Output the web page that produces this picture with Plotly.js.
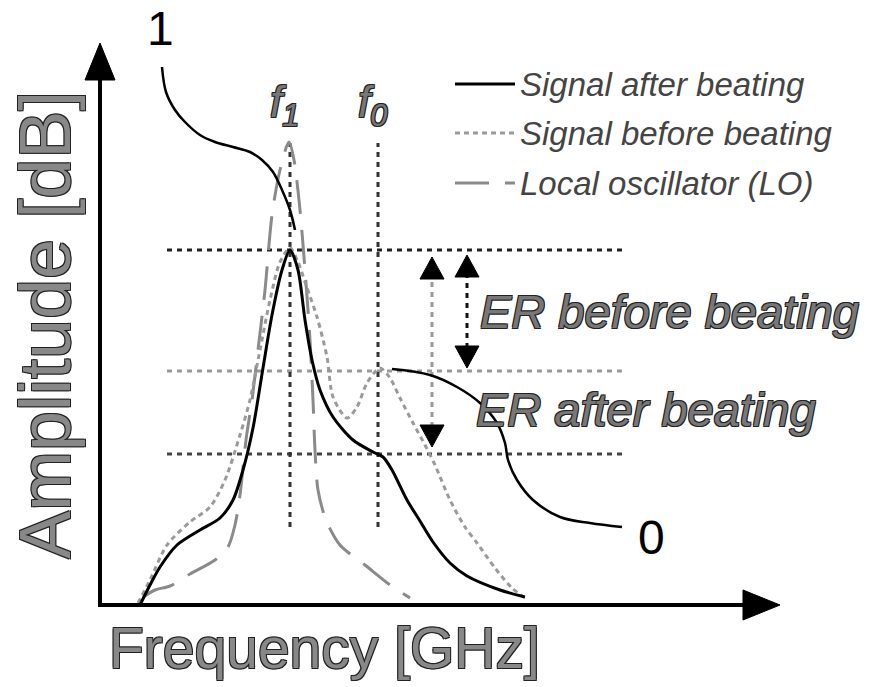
<!DOCTYPE html>
<html>
<head>
<meta charset="utf-8">
<script src="https://cdn.plot.ly/plotly-3.0.1.min.js"></script>
<style>html,body{margin:0;padding:0;background:#fff;}#chart{width:869px;height:687px;}</style>
</head>
<body>
<div id="chart"></div>
<script>
// ---- data (frequency offset / amplitude offset from axis origin, arbitrary units) ----
const afterFreq = [40,50,60,77,100,120,133,143,153,163,172,182,190,198,205,212,220,233,253,273,283,292,307,320,333,350,367,400,425];
const afterAmp  = [0,20,38,60,75,87,105,135,177,237,290,335,355,335,285,245,215,188,165,153,148,135,105,84,63,42,29,15,8];

const beforeFreq = [38,50,67,90,110,125,140,150,160,170,180,190,198,206,217,227,233,247,257,267,280,290,300,313,325,335,350,365,377,395,412,428];
const beforeAmp  = [2,25,60,83,98,125,170,205,255,305,343,357,343,320,288,248,208,187,198,222,237,227,207,182,160,140,105,78,62,37,17,5];

const loFreq = [43,55,70,90,115,128,135,140,146,152,158,165,172,180,189,194,200,205,210,213,215,218,226,240,265,290,310];
const loAmp  = [8,15,19,31,45,58,80,110,165,205,255,315,390,435,463,445,395,335,265,205,155,115,85,60,40,20,7];

const lead1Freq = [62,66,75,85,100,115,133,150,162,173,182,190,195];
const lead1Amp  = [538,513,495,483,470,463,458,453,445,433,415,395,375];
const lead0Freq = [292,330,357,380,397,405,408,417,433,460,490,522];
const lead0Amp  = [236,230,218,202,182,162,145,125,105,88,82,78];

const levelAmps   = [355, 234, 151];
const levelSpan   = [67, 522];
const markerFreqs = [190, 278];
const markerSpan  = [78, 462];
const markerLabels = ['<i>f<sub>1</sub></i>', '<i>f<sub>0</sub></i>'];

const erArrowFreqs = [332, 367];
const erArrowLow   = [158, 237];
const erArrowHigh  = [348, 350];
const erLabels = ['ER before beating', 'ER after beating'];

const legendLabels = ['Signal after beating', 'Signal before beating', 'Local oscillator (LO)'];
const endLabels = ['1', '0'];
const axisTitles = ['Frequency [GHz]', 'Amplitude [dB]'];

// ---- styles ----
const OUT = '1px 1px 0 #222, -1px -1px 0 #222, 1px -1px 0 #222, -1px 1px 0 #222';
const SANS = 'Liberation Sans, Arial, sans-serif';
const styles = {
  after:  {color:'#000', width:3, dash:'solid'},
  before: {color:'#9a9a9a', width:3, dash:'5px,4px'},
  lo:     {color:'#8a8a8a', width:3, dash:'34px,16px'}
};
const levelColors = ['#222', '#999', '#444'];

const traces = [];
function curve(x, y, st, smooth) {
  traces.push({type:'scatter', mode:'lines', x:x, y:y, hoverinfo:'skip',
    line:{color:st.color, width:st.width, dash:st.dash, shape:'spline', smoothing:smooth}});
}
levelAmps.forEach((a,i)=>traces.push({type:'scatter',mode:'lines',x:levelSpan,y:[a,a],hoverinfo:'skip',
  line:{color:levelColors[i],width:3,dash:'5px,5px'}}));
markerFreqs.forEach(f=>traces.push({type:'scatter',mode:'lines',x:[f,f],y:markerSpan,hoverinfo:'skip',
  line:{color:'#333',width:3,dash:'5px,5px'}}));
erArrowFreqs.forEach((f,i)=>traces.push({type:'scatter',mode:'lines',x:[f,f],y:[erArrowLow[i]+20,erArrowHigh[i]-20],hoverinfo:'skip',
  line:{color:i===0?'#999':'#111',width:3,dash:'5px,5px'}}));
curve(loFreq, loAmp, styles.lo, 0.8);
curve(beforeFreq, beforeAmp, styles.before, 0.8);
curve(afterFreq, afterAmp, styles.after, 0.8);
curve(lead1Freq, lead1Amp, {color:'#000',width:2.5,dash:'solid'}, 1);
curve(lead0Freq, lead0Amp, {color:'#000',width:2.5,dash:'solid'}, 1);

const legRowAmp = [521, 472, 422];
const legSpan = [355, 415];
[styles.after, styles.before, styles.lo].forEach((st,i)=>traces.push({type:'scatter',mode:'lines',
  x:legSpan, y:[legRowAmp[i],legRowAmp[i]], hoverinfo:'skip', line:{color:st.color,width:st.width,dash:st.dash}}));

const shapes = [];
function tri(x, tip, base, hw, vertical) {
  let p;
  if (vertical) p = `M ${x-hw},${base} L ${x+hw},${base} L ${x},${tip} Z`;
  else p = `M ${base},${x-hw} L ${base},${x+hw} L ${tip},${x} Z`;
  shapes.push({type:'path', path:p, xref:'x', yref:'y', fillcolor:'#000', line:{color:'#000',width:1}});
}
const axisEnd = [645, 527], axisTip = [680, 562];
shapes.push({type:'line',xref:'x',yref:'y',x0:0,y0:0,x1:0,y1:axisEnd[1],line:{color:'#000',width:4}});
shapes.push({type:'line',xref:'x',yref:'y',x0:-2,y0:0,x1:axisEnd[0],y1:0,line:{color:'#000',width:4}});
tri(0, axisTip[1], axisEnd[1]-2, 15, true);
tri(0, axisTip[0], axisEnd[0]-2, 15, false);
erArrowFreqs.forEach((f,i)=>{ tri(f, erArrowHigh[i], erArrowHigh[i]-22, 12, true); tri(f, erArrowLow[i], erArrowLow[i]+22, 12, true); });

const ann = [];
function txt(text, x, y, opts) {
  ann.push(Object.assign({text:text, x:x, y:y, xref:'x', yref:'y', showarrow:false}, opts||{}));
}
txt(axisTitles[0], 224, -43, {font:{family:SANS,size:57,color:'#888',shadow:OUT}});
txt(axisTitles[1], -55, 280, {textangle:-90, font:{family:SANS,size:72,color:'#888',shadow:OUT}});
txt(endLabels[0], 60, 577, {font:{family:SANS,size:48,color:'#000'}});
txt(endLabels[1], 551, 68, {font:{family:SANS,size:48,color:'#000'}});
markerLabels.forEach((t,i)=>txt(t, markerFreqs[i]-22, 500, {xanchor:'left', font:{family:SANS,size:44,color:'#777',shadow:OUT}}));
legendLabels.forEach((t,i)=>txt(t, 418, legRowAmp[i], {xanchor:'left', font:{family:SANS,size:33,color:'#444',style:'italic'}}));
txt(erLabels[0], 378, 294, {xanchor:'left', font:{family:SANS,size:47,color:'#777',style:'italic',shadow:OUT}});
txt(erLabels[1], 374, 196, {xanchor:'left', font:{family:SANS,size:47,color:'#777',style:'italic',shadow:OUT}});

const layout = {
  width:869, height:687, margin:{l:0,r:0,t:0,b:0}, paper_bgcolor:'#fff', plot_bgcolor:'#fff',
  showlegend:false,
  xaxis:{range:[-100,769], visible:false, fixedrange:true},
  yaxis:{range:[-82,605], visible:false, fixedrange:true},
  shapes:shapes, annotations:ann
};
Plotly.newPlot('chart', traces, layout, {staticPlot:true, displayModeBar:false});
</script>
</body>
</html>
